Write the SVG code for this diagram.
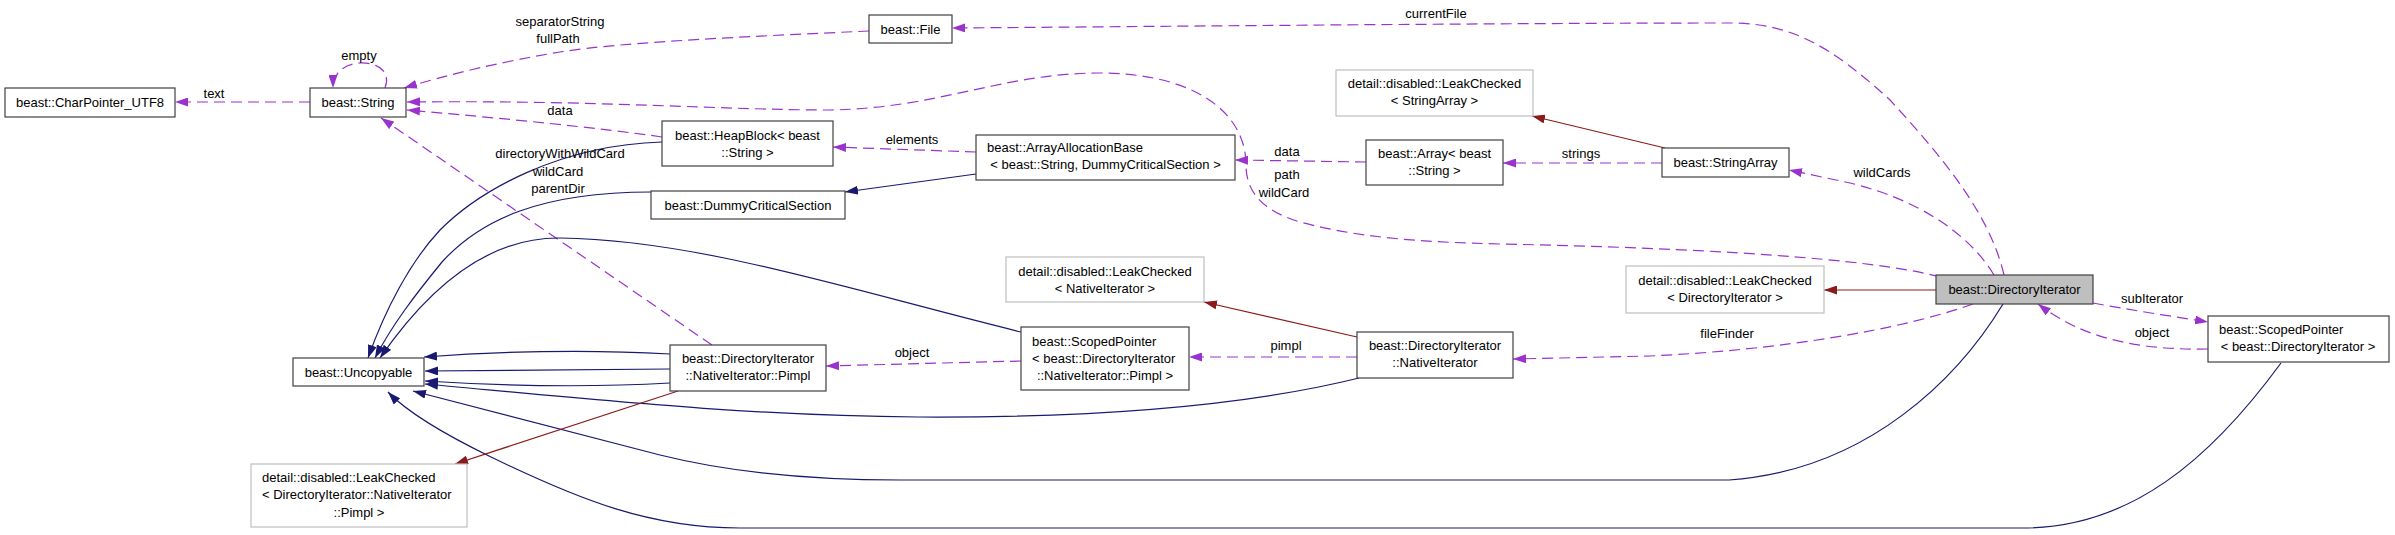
<svg xmlns="http://www.w3.org/2000/svg" width="2395" height="535" viewBox="0 0 2395 535">
<style>
  .n rect{fill:#fff;stroke:#404040;stroke-width:1.2}
  .g rect{fill:#fff;stroke:#bfbfbf;stroke-width:1.2}
  .sel rect{fill:#bfbfbf;stroke:#404040;stroke-width:1.2}
  text{font-family:"Liberation Sans",Arial,sans-serif;font-size:13px;fill:#000}
  .c{text-anchor:middle}
  .p{fill:none;stroke:#9a32cd;stroke-width:1.2;stroke-dasharray:11,6;marker-end:url(#ap)}
  .b{fill:none;stroke:#191970;stroke-width:1.2;marker-end:url(#ab)}
  .r{fill:none;stroke:#8b1a1a;stroke-width:1.2;marker-end:url(#ar)}
</style>
<defs>
  <marker id="ap" markerUnits="userSpaceOnUse" markerWidth="13" markerHeight="9" refX="13" refY="4.5" orient="auto"><path d="M0,0 L13,4.5 L0,9 z" fill="#9a32cd"/></marker>
  <marker id="ab" markerUnits="userSpaceOnUse" markerWidth="13" markerHeight="9" refX="13" refY="4.5" orient="auto"><path d="M0,0 L13,4.5 L0,9 z" fill="#191970"/></marker>
  <marker id="ar" markerUnits="userSpaceOnUse" markerWidth="13" markerHeight="9" refX="13" refY="4.5" orient="auto"><path d="M0,0 L13,4.5 L0,9 z" fill="#8b1a1a"/></marker>
</defs>
<rect width="2395" height="535" fill="#fff"/>
<g id="edges">
  <path class="p" d="M310,102 L175,102"/>
  <path class="p" d="M385,88 C392,70 375,62 360,63 C345,64 333,72 333,88"/>
  <path class="p" d="M869,31 C760,36 620,42 560,52 C500,62 450,74 404,88"/>
  <path class="p" d="M662,137 C600,128 500,118 407,110"/>
  <path class="p" d="M1940,277 C1870,258 1700,248 1500,244 C1420,242 1360,238 1300,222 C1260,210 1246,190 1246,165 C1246,110 1190,72 1096,73 C1000,74 940,108 830,110 C720,110 600,100 407,102"/>
  <path class="p" d="M976,152 L833,147"/>
  <path class="p" d="M1366,162 L1235,160"/>
  <path class="p" d="M1662,163 L1503,163"/>
  <path class="p" d="M2004,275 C1990,215 1945,160 1890,100 C1830,45 1790,23 1730,23 C1500,23 1100,27 952,28"/>
  <path class="p" d="M1994,275 C1970,235 1920,200 1850,183 L1789,170"/>
  <path class="p" d="M1973,304 C1900,330 1780,350 1650,356 L1513,359"/>
  <path class="p" d="M2093,303 C2130,310 2170,316 2208,322"/>
  <path class="p" d="M2208,349 C2150,350 2110,342 2076,327 C2065,322 2050,313 2038,304"/>
  <path class="p" d="M1357,357 L1189,357"/>
  <path class="p" d="M1021,361 L826,366"/>
  <path class="p" d="M712,345 L381,118"/>
  <path class="b" d="M662,142 C560,145 480,190 440,230 C410,262 385,310 368,358"/>
  <path class="b" d="M651,192 C540,192 480,220 442,262 C415,295 392,325 375,358"/>
  <path class="b" d="M1021,332 C850,290 700,240 560,238 C480,237 420,300 380,358"/>
  <path class="b" d="M670,354 C600,350 520,350 424,357"/>
  <path class="b" d="M670,369 L425,371"/>
  <path class="b" d="M670,383 C600,387 520,387 425,381"/>
  <path class="b" d="M1359,378 C1250,405 1100,418 918,417 C750,416 600,400 425,384"/>
  <path class="b" d="M2003,304 C1960,375 1870,470 1729,480 L900,480 C800,480 720,470 660,455 L413,391"/>
  <path class="b" d="M2281,363 C2210,460 2130,528 2023,528 L740,528 C650,528 580,500 491,457 C450,437 410,415 388,392"/>
  <path class="b" d="M976,174 L845,192"/>
  <path class="r" d="M1665,148 L1532,116"/>
  <path class="r" d="M1357,337 L1204,302"/>
  <path class="r" d="M1936,290 L1824,290"/>
  <path class="r" d="M678,391 L455,464"/>
</g>
<g id="edge-labels">
  <text class="c" x="214" y="97.5">text</text>
  <text class="c" x="359" y="59.5">empty</text>
  <text class="c" x="560" y="25.5">separatorString</text>
  <text class="c" x="558" y="42.5">fullPath</text>
  <text class="c" x="560" y="114.5">data</text>
  <text class="c" x="560" y="157.5">directoryWithWildCard</text>
  <text class="c" x="558" y="175.5">wildCard</text>
  <text class="c" x="558" y="192.5">parentDir</text>
  <text class="c" x="912" y="143.5">elements</text>
  <text class="c" x="1287" y="155.5">data</text>
  <text class="c" x="1287" y="178.5">path</text>
  <text class="c" x="1284" y="196.5">wildCard</text>
  <text class="c" x="1436" y="17.5">currentFile</text>
  <text class="c" x="1581" y="157.5">strings</text>
  <text class="c" x="1882" y="176.5">wildCards</text>
  <text class="c" x="1727" y="337.5">fileFinder</text>
  <text class="c" x="2152" y="302.5">subIterator</text>
  <text class="c" x="2152" y="336.5">object</text>
  <text class="c" x="1286" y="349.5">pimpl</text>
  <text class="c" x="912" y="356.5">object</text>
</g>
<g id="n-charpointer" class="n"><rect x="5" y="88" width="170" height="29"/><text class="c" x="90" y="107">beast::CharPointer_UTF8</text></g>
<g id="n-string" class="n"><rect x="310" y="88" width="96" height="29"/><text class="c" x="358" y="107">beast::String</text></g>
<g id="n-file" class="n"><rect x="869" y="15" width="83" height="28"/><text class="c" x="910.5" y="34">beast::File</text></g>
<g id="n-heapblock" class="n"><rect x="662" y="121" width="171" height="45"/><text class="c" x="747.5" y="139.5">beast::HeapBlock&lt; beast</text><text class="c" x="747.5" y="156.5">::String &gt;</text></g>
<g id="n-dcs" class="n"><rect x="651" y="191" width="194" height="28"/><text class="c" x="748" y="210">beast::DummyCriticalSection</text></g>
<g id="n-aab" class="n"><rect x="976" y="135" width="259" height="45"/><text x="987" y="152">beast::ArrayAllocationBase</text><text class="c" x="1105.5" y="169">&lt; beast::String, DummyCriticalSection &gt;</text></g>
<g id="n-array" class="n"><rect x="1366" y="140" width="137" height="45"/><text class="c" x="1434.5" y="158">beast::Array&lt; beast</text><text class="c" x="1434.5" y="175">::String &gt;</text></g>
<g id="n-lc-stringarray" class="g"><rect x="1336" y="70" width="197" height="46"/><text class="c" x="1434.5" y="87.5">detail::disabled::LeakChecked</text><text class="c" x="1434.5" y="105">&lt; StringArray &gt;</text></g>
<g id="n-stringarray" class="n"><rect x="1662" y="148" width="127" height="29"/><text class="c" x="1725.5" y="167">beast::StringArray</text></g>
<g id="n-lc-nativeiterator" class="g"><rect x="1006" y="257" width="198" height="45"/><text class="c" x="1105" y="275.5">detail::disabled::LeakChecked</text><text class="c" x="1105" y="292.5">&lt; NativeIterator &gt;</text></g>
<g id="n-lc-directoryiterator" class="g"><rect x="1626" y="266" width="198" height="47"/><text class="c" x="1725" y="284.5">detail::disabled::LeakChecked</text><text class="c" x="1725" y="302">&lt; DirectoryIterator &gt;</text></g>
<g id="n-directoryiterator" class="sel"><rect x="1936" y="275" width="157" height="29"/><text class="c" x="2014.5" y="294">beast::DirectoryIterator</text></g>
<g id="n-sp-directoryiterator" class="n"><rect x="2208" y="316" width="181" height="46"/><text x="2219" y="333.5">beast::ScopedPointer</text><text class="c" x="2298" y="350.5">&lt; beast::DirectoryIterator &gt;</text></g>
<g id="n-nativeiterator" class="n"><rect x="1357" y="332" width="156" height="46"/><text class="c" x="1435" y="350">beast::DirectoryIterator</text><text class="c" x="1435" y="367">::NativeIterator</text></g>
<g id="n-sp-pimpl" class="n"><rect x="1021" y="327" width="168" height="63"/><text x="1032" y="345.5">beast::ScopedPointer</text><text x="1032" y="362.5">&lt; beast::DirectoryIterator</text><text class="c" x="1105" y="379.5">::NativeIterator::Pimpl &gt;</text></g>
<g id="n-pimpl" class="n"><rect x="670" y="345" width="156" height="46"/><text class="c" x="748" y="363">beast::DirectoryIterator</text><text class="c" x="748" y="380">::NativeIterator::Pimpl</text></g>
<g id="n-uncopyable" class="n"><rect x="293" y="358" width="131" height="28"/><text class="c" x="358.5" y="376.5">beast::Uncopyable</text></g>
<g id="n-lc-pimpl" class="g"><rect x="251" y="464" width="216" height="63"/><text x="262" y="481.5">detail::disabled::LeakChecked</text><text x="262" y="499">&lt; DirectoryIterator::NativeIterator</text><text class="c" x="359" y="516.5">::Pimpl &gt;</text></g>
</svg>
